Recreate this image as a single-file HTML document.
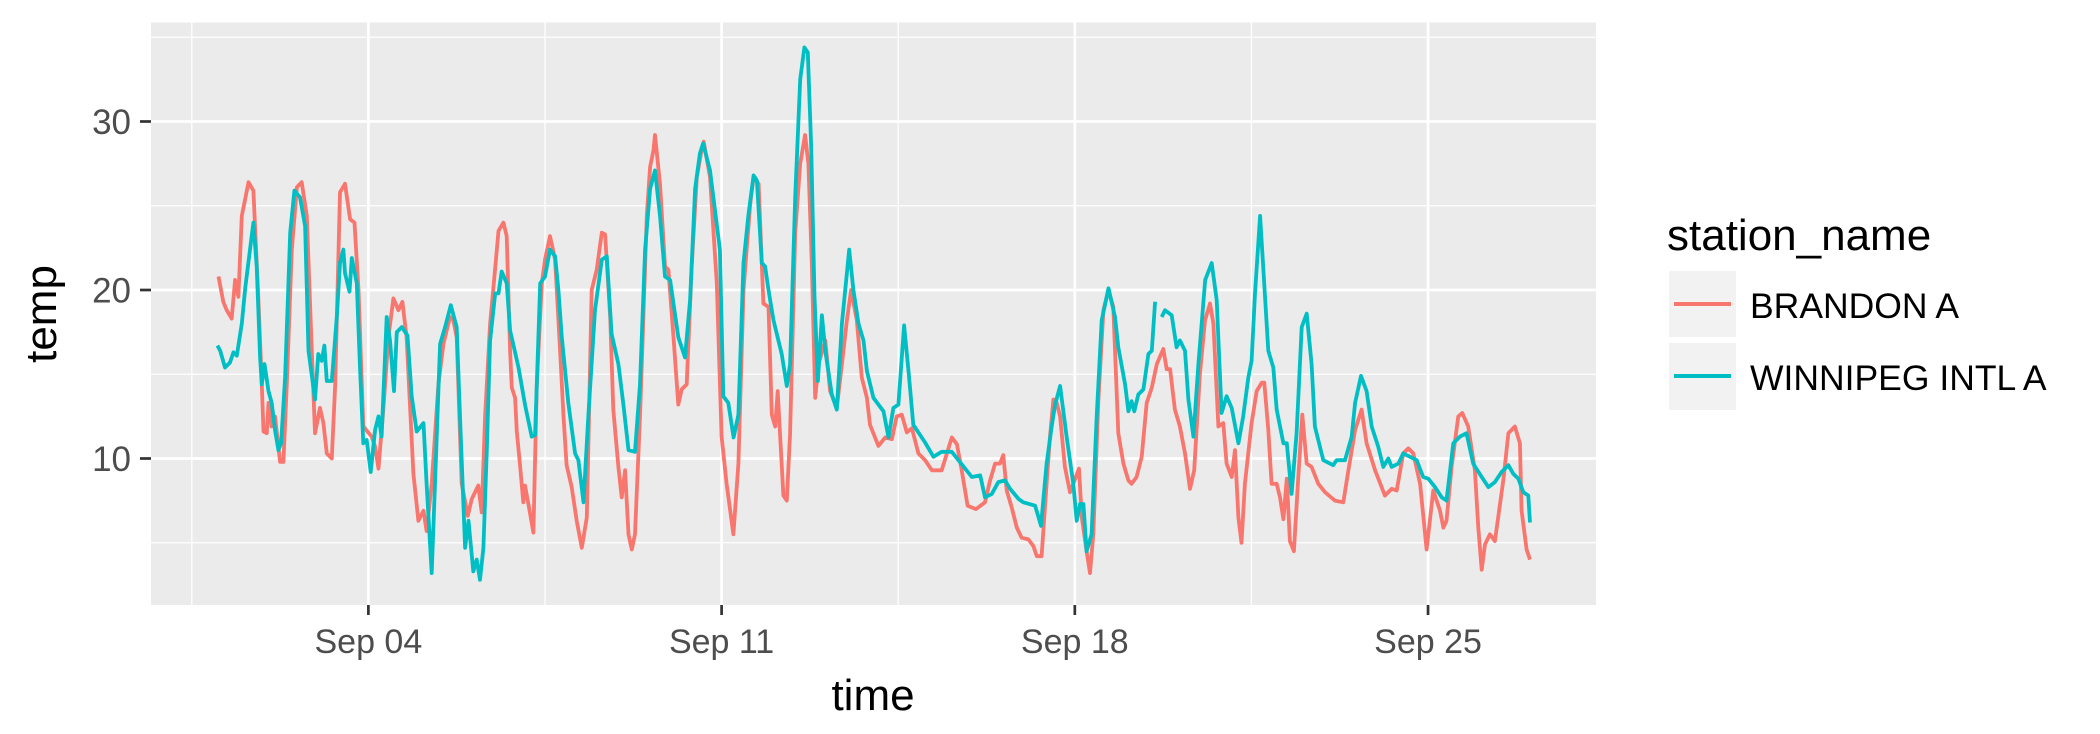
<!DOCTYPE html>
<html><head><meta charset="utf-8">
<style>
html,body{margin:0;padding:0;background:#fff;}
svg{display:block;font-family:"Liberation Sans",Arial,sans-serif;}
</style></head>
<body>
<svg id="chart" width="2100" height="734" viewBox="0 0 2100 734" xmlns="http://www.w3.org/2000/svg">
<rect x="0" y="0" width="2100" height="734" fill="#fff"/>
<rect x="151" y="22.5" width="1445" height="582.5" fill="#EBEBEB"/>
<g id="grid"></g>
<g id="series"></g>
<g id="axes"></g>
<text transform="translate(56,314) rotate(-90)" text-anchor="middle" font-size="44" fill="#000">temp</text>
<text x="873" y="710" text-anchor="middle" font-size="44" fill="#000">time</text>
<g>
<text x="1667" y="250" font-size="44" fill="#000">station_name</text>
<g>
<rect x="1669" y="271" width="67" height="66" fill="#F2F2F2"/>
<line x1="1674" x2="1731" y1="304" y2="304" stroke="#F8766D" stroke-width="4"/>
<text x="1750" y="318" font-size="35.5" fill="#000">BRANDON A</text>
</g>
<g>
<rect x="1669" y="343" width="67" height="67" fill="#F2F2F2"/>
<line x1="1674" x2="1731" y1="376" y2="376" stroke="#00BFC4" stroke-width="4"/>
<text x="1750" y="390" font-size="35.5" fill="#000">WINNIPEG INTL A</text>
</g>
</g>
</svg>
<script>
// hours since Sep 01 00:00
const xTickHours = [72, 240, 408, 576];
const xTickLabels = ["Sep 04", "Sep 11", "Sep 18", "Sep 25"];
const xMinorHours = [-12, 156, 324, 492];
const yTicks = [10, 20, 30];
const yMinor = [5, 15, 25, 35];

const brandonHours = [0.7,3,4.6,7,8.6,10.2,11.8,13.4,15,17.3,19.7,21.3,22.1,23.7,24.5,26,27.6,30,31.6,33.2,35.6,38,40.3,42.7,45.1,46.6,49,50.6,52.2,54.6,56.2,58.5,60.9,63.3,65.4,67.3,69.6,73.6,75.2,76.8,79.1,81.5,83.9,86.3,88.2,90.2,93.4,95.8,98.2,99.7,102.1,105.3,107.7,110.8,112.4,114,116.4,119.3,121.2,124.3,125.9,127.5,129.9,132.3,133.9,136.2,137.8,139.4,140.2,141.8,142.6,144.2,145.7,146.5,148.1,150.5,152.1,154.5,156,158.4,160.8,163.2,164.8,166.3,168.7,171.1,173.5,175.9,178.2,180.6,183,184.6,187,188.5,190.9,192.5,194.1,195.7,197.3,198.8,201.2,204.4,206,207.6,208.3,210.7,213.1,214.7,217.1,219.4,221,223.4,225.8,228.2,230.5,231.5,234.5,237.7,240,242.4,245.6,248,250.4,253.6,255.2,257.6,259.9,262.3,263.9,265.5,266.7,269.4,271,272.6,275,277.4,279.7,281.3,282.9,284.5,286.1,289.3,291.6,294.8,297.2,299.6,301.6,304.3,306.7,309.1,310.6,314.6,317.8,321,323.3,325.7,328.1,330.5,333.6,336.8,340,344.7,349.5,351.9,354.2,357,361,365.3,367.7,370.1,372.4,374,375.6,378,380.4,382.7,385.9,388.3,389.9,392.2,394.6,396.2,397.8,399.4,401,403.3,405.7,410,411.3,413.6,415.2,416.8,419.2,421.6,424,426.3,428.7,431.1,433.5,435,437.4,439.8,442.2,444.6,447,450.1,451.7,453.3,455.6,458,460.4,462.8,464.8,467.5,469.9,472.3,473.9,476.3,478.6,480.2,482.6,484.2,485.8,487.3,488.9,492.1,494.5,496.9,498.1,500,501.6,504,505.6,507.2,508.8,510.3,512.2,514.3,516.2,518.3,520.6,523.8,527,531.7,535.7,538.1,541.3,544.4,546.8,550.8,555.5,558.7,561.1,564.2,566.6,569,572.2,575.3,578.5,581.7,583.3,584.8,587.2,590.4,592.3,595.1,598.3,599.9,601.5,603.1,605.4,607.8,611.8,614.2,617.3,619.7,620.5,622.9,624.5];
const brandonTemps = [20.8,19.3,18.8,18.3,20.6,19.6,24.4,25.4,26.4,25.9,19.4,14.4,11.6,11.5,13.3,11.9,12.5,9.8,9.8,14.4,22.4,26.1,26.4,24.4,16.4,11.5,13,12.1,10.3,10,14.4,25.8,26.3,24.2,24,20,11.9,11.3,10.7,9.4,12.9,17.2,19.5,18.8,19.3,17.2,9.1,6.3,6.9,5.7,8.5,14.4,16.8,18.4,18.2,17.2,8.5,6.6,7.6,8.4,6.8,12.5,18,21.3,23.5,24,23.2,16.4,14.2,13.6,11.6,9.5,7.4,8.4,7.3,5.6,14.4,20.4,21.8,23.2,21.8,16.4,12.5,9.6,8.3,6.3,4.7,6.5,20,21.2,23.4,23.3,18.4,12.9,9.5,7.7,9.3,5.5,4.6,5.5,12.5,24.4,27.3,28.3,29.2,26.3,21.4,21.2,17.2,13.2,14.1,14.4,21.4,26.7,28.3,28.8,26.7,20.4,11.3,8.5,5.5,9.7,20,25.1,26.7,26.3,19.2,19,12.6,11.9,14,7.8,7.5,11.5,23.4,27.5,29.2,27.5,21.6,13.6,15.6,17,14,13,15.6,18.2,20,18.2,14.8,13.6,12,10.75,11.25,11.15,12.5,12.6,11.55,11.8,10.3,9.9,9.3,9.3,11.25,10.85,9.3,7.2,7,7.4,8.7,9.7,9.7,10.2,8.1,7.1,5.9,5.3,5.2,4.8,4.2,4.2,8.5,11.3,13.5,13.3,12.5,9.5,8,9.4,6.5,4.5,3.2,5.5,13.5,18.8,20,19,11.5,9.7,8.7,8.5,8.9,10.1,13.3,14.2,15.6,16.5,15.3,15.3,12.9,11.9,10.3,8.2,9.3,15,18.2,19.2,18,11.9,12.1,9.7,8.9,10.5,6.5,5,8.5,12.1,14,14.5,14.5,11.7,8.5,8.5,7.7,6.4,8.8,5.1,4.5,8.9,12.6,9.7,9.5,8.5,8,7.5,7.4,9.3,11.7,12.9,10.9,9.3,7.8,8.2,8.1,10.3,10.6,10.3,8.5,4.6,8.1,6.9,5.9,6.3,9.5,12.5,12.7,11.9,9.3,5.9,3.4,4.9,5.5,5.1,8.7,11.5,11.9,10.9,6.9,4.6,4];

const winnipegHours = [0.2,1.5,3.8,6.2,7.8,9.4,11.8,13.4,15.7,17.3,18.9,20.5,21.3,22.6,24.5,26,27.6,29.2,30.5,32.4,34.8,36.8,39.5,41.9,43.5,46.6,48.2,49.8,51.1,52.2,54.6,57,58.5,60.1,60.9,63,64.1,66.5,68,69.6,71.2,73.1,75.2,76.8,78.3,80.7,82.3,84.2,85.5,87.9,90.6,92.6,95,98.2,99.7,102.1,103.7,106.1,108.5,111.2,114,115.6,118,119.6,121.9,123.5,125.1,126.7,128.3,129.9,132.3,133.9,135.4,137.8,139.4,143.4,146.5,149.7,151.3,153.7,156,158.4,160.8,162.4,164,167.1,170.3,171.9,174.3,176.6,179.8,183,185.4,187.7,190.9,193.3,195.7,198.8,201.2,203.6,206,208.3,210.7,213.1,215.5,219.4,222.6,225,227.4,229.7,231.2,234.5,239.2,240.8,243.2,245.7,248,250.4,252.8,255.2,256.8,259.1,260.7,262.3,264.7,268.6,271,272.6,275,277.4,279.4,281,282.6,284.2,285.8,287.7,289.3,292.4,294.8,297.2,300.7,302.7,305.1,307.5,309.1,312.2,317,319.4,321.7,324.1,326.8,328.9,331.2,336.8,340.8,344.7,349.5,355.8,359,363,365.3,368.5,371.6,374.8,377.2,381.2,383.5,389.1,390.3,391.9,394.6,397,398.6,401,404.1,407.3,408.9,410.5,412.1,413.6,416,418.4,420.8,424,427.1,428.7,431.9,433.5,435,436.3,438.2,440.6,443,444.6,446.2,447.5,449.3,450.9,454.1,456.4,458,460.4,462,464.4,466.8,470,473.1,475.5,477.8,480.2,482.6,485.8,488.1,490.5,492.1,493.7,496.1,500,502.4,504,507.2,508.8,511.1,513.5,515.9,518.3,520.6,522.2,526.2,530.9,532.5,536.5,539.7,541.3,544.1,546.8,549.2,552.3,554.7,557.1,558.7,561.9,564.2,567.4,570.6,573.7,576.1,579.3,582.5,584.8,588,591.2,594.3,597.5,601.5,604.7,607.8,611,614.2,616.5,619,621.3,623.7,624.5];
const winnipegTemps = [16.7,16.4,15.4,15.7,16.3,16.1,18,20.1,22.4,24,21.4,16,14.4,15.6,14,13.3,11.7,10.5,10.9,14.8,23.4,25.9,25.5,23.8,16.4,13.5,16.2,15.8,16.7,14.6,14.6,18.4,21.6,22.4,21,19.9,21.9,20.4,15.4,10.9,11.1,9.2,11.7,12.5,11.3,18.4,17,14,17.5,17.8,17.3,13.7,11.6,12.1,8.5,3.2,8.5,16.8,17.8,19.1,17.8,12.5,4.7,6.3,3.3,4,2.8,4.7,10.5,17,19.8,19.8,21.1,20.4,17.6,15.4,13.2,11.3,11.4,20.4,20.8,22.4,22,20,17.2,13.3,10.3,9.9,7.4,12.5,18.8,21.8,22,17.4,15.6,13.2,10.5,10.4,14.4,22.4,26,27.1,24.4,20.8,20.6,17.2,16,19.4,26,28.1,28.7,27.1,22.4,13.7,13.3,11.25,12.6,21.6,24.5,26.8,26.5,21.6,21.4,20,18.2,16.2,14.3,15.6,25.5,32.5,34.4,34.1,28.5,19.6,14.6,18.5,16.4,13.8,12.9,18,22.4,20,18,17,15.2,13.6,12.8,11.25,13,13.2,17.9,15.2,12,10.95,10.1,10.4,10.4,9.4,8.9,9,7.7,7.9,8.6,8.7,8.2,7.6,7.4,7.2,6.7,6,9.7,11.9,13.2,14.3,11.3,8.5,6.3,7.3,7.3,4.5,5.5,12.5,18.2,20.1,18.4,16.6,14.4,12.8,13.4,12.8,13.8,14.1,16.2,16.4,19.3,null,18.4,18.8,18.5,16.6,17,16.4,13.5,11.3,15.6,20.6,21.6,19.4,12.7,13.7,13,10.9,12.5,14.8,15.8,19.8,24.4,16.4,15.4,12.9,10.9,10.9,7.9,11.5,17.8,18.6,15.6,11.9,9.9,9.6,9.9,9.9,11.3,13.3,14.9,14,11.9,10.7,9.5,10,9.5,9.7,10.3,10.1,9.9,8.9,8.8,8.3,7.7,7.5,10.9,11.3,11.5,9.7,8.9,8.3,8.6,9.2,9.6,9.1,8.8,8,7.8,6.2];

const X0 = 217, PX_PER_HOUR = 50.46/24;
const Y10 = 458.5, PX_PER_UNIT = 16.85;
const PL = 151, PR = 1596, PT = 22.5, PB = 605;
function xScale(h){ return X0 + h*PX_PER_HOUR; }
function yScale(v){ return Y10 - (v-10)*PX_PER_UNIT; }
const NS = "http://www.w3.org/2000/svg";
function mk(tag, attrs){ const e=document.createElementNS(NS,tag); for(const k in attrs) e.setAttribute(k, attrs[k]); return e; }

const grid = document.getElementById('grid');
yMinor.forEach(v=>{ const l=mk('line',{x1:PL,x2:PR,y1:yScale(v),y2:yScale(v),stroke:'#fff','stroke-width':1.3});
  
   grid.appendChild(l); });
xMinorHours.forEach(h=>{ const l=mk('line',{x1:xScale(h),x2:xScale(h),y1:PT,y2:PB,stroke:'#fff','stroke-width':1.3});
  
   grid.appendChild(l); });
yTicks.forEach(v=>{ const l=mk('line',{x1:PL,x2:PR,y1:yScale(v),y2:yScale(v),stroke:'#fff','stroke-width':2.7});
  
   grid.appendChild(l); });
xTickHours.forEach(h=>{ const l=mk('line',{x1:xScale(h),x2:xScale(h),y1:PT,y2:PB,stroke:'#fff','stroke-width':2.7});
  
   grid.appendChild(l); });

function pathFor(hours, temps){
  let d='', pen=false;
  for(let i=0;i<hours.length;i++){
    if(temps[i]===null){ pen=false; continue; }
    d += (pen?'L':'M') + xScale(hours[i]).toFixed(1) + ',' + yScale(temps[i]).toFixed(1);
    pen=true;
  }
  return d;
}
const series = document.getElementById('series');
const pB = mk('path',{d:pathFor(brandonHours,brandonTemps),fill:'none',stroke:'#F8766D','stroke-width':3.8,'stroke-linejoin':'round'});


series.appendChild(pB);
const pW = mk('path',{d:pathFor(winnipegHours,winnipegTemps),fill:'none',stroke:'#00BFC4','stroke-width':3.8,'stroke-linejoin':'round'});


series.appendChild(pW);

const axes = document.getElementById('axes');
yTicks.forEach(v=>{
  const t=mk('line',{x1:140,x2:PL,y1:yScale(v),y2:yScale(v),stroke:'#333','stroke-width':2.7});
  
   axes.appendChild(t);
  const lb=mk('text',{x:131,y:yScale(v)+12.5,'text-anchor':'end','font-size':35,fill:'#4D4D4D'});
  
  
  lb.textContent=String(v); axes.appendChild(lb);
});
xTickHours.forEach((h,i)=>{
  const t=mk('line',{x1:xScale(h),x2:xScale(h),y1:PB,y2:PB+10,stroke:'#333','stroke-width':2.7});
  
   axes.appendChild(t);
  const lb=mk('text',{x:xScale(h),y:653,'text-anchor':'middle','font-size':34,fill:'#4D4D4D'});
  
  
  lb.textContent=xTickLabels[i]; axes.appendChild(lb);
});
</script>
</body></html>
